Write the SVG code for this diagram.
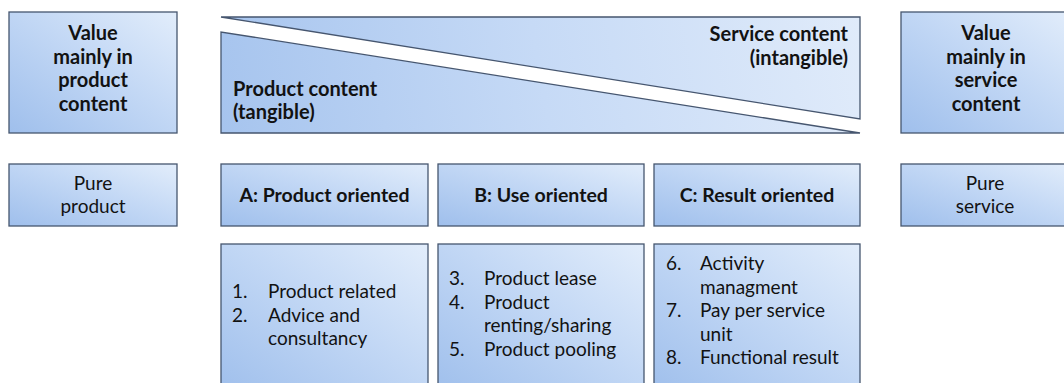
<svg xmlns="http://www.w3.org/2000/svg" width="1064" height="383" viewBox="0 0 1064 383">
<defs>
<linearGradient id="g" x1="0" y1="1" x2="1" y2="0">
<stop offset="0" stop-color="#9fbfec"/>
<stop offset="0.55" stop-color="#c3d8f5"/>
<stop offset="1" stop-color="#e2edfb"/>
</linearGradient>
<linearGradient id="gw" gradientUnits="userSpaceOnUse" x1="221" y1="133" x2="860" y2="17">
<stop offset="0" stop-color="#a6c4ee"/>
<stop offset="0.5" stop-color="#c6daf6"/>
<stop offset="1" stop-color="#e0ebfa"/>
</linearGradient>
<style>
.b{fill:url(#g);stroke:#46566f;stroke-width:1.3}
.t{fill:url(#gw);stroke:#46566f;stroke-width:1.3}
text{font-family:Lato,"Liberation Sans",sans-serif;fill:#121212;font-size:19px}
.h{font-weight:bold;font-size:19.5px}
.big{font-weight:bold;font-size:20px}
.c{text-anchor:middle}
.r{text-anchor:end}
</style>
</defs>
<rect width="1064" height="383" fill="#ffffff"/>
<g id="value-product">
<rect class="b" x="9" y="12" width="168" height="121"/>
<text class="big c"><tspan x="93" y="40">Value</tspan><tspan x="93" y="63.5">mainly in</tspan><tspan x="93" y="87">product</tspan><tspan x="93" y="110.5">content</tspan></text>
</g>
<g id="service-content">
<polygon class="t" points="221,17 860,17 860,119"/>
<text class="big r"><tspan x="848" y="41">Service content</tspan><tspan x="848" y="65">(intangible)</tspan></text>
</g>
<g id="product-content">
<polygon class="t" points="221,32 221,133 860,133"/>
<text class="big"><tspan x="233" y="95.5">Product content</tspan><tspan x="233" y="119">(tangible)</tspan></text>
</g>
<g id="value-service">
<rect class="b" x="901" y="12" width="170" height="121"/>
<text class="big c"><tspan x="986" y="40">Value</tspan><tspan x="986" y="63.5">mainly in</tspan><tspan x="986" y="87">service</tspan><tspan x="986" y="110.5">content</tspan></text>
</g>
<g id="pure-product">
<rect class="b" x="9" y="164" width="168" height="62"/>
<text class="c"><tspan x="93" y="190">Pure</tspan><tspan x="93" y="213">product</tspan></text>
</g>
<g id="a-product-oriented">
<rect class="b" x="221" y="164" width="207" height="62"/>
<text class="h c" x="324.5" y="201.5">A: Product oriented</text>
</g>
<g id="b-use-oriented">
<rect class="b" x="438" y="164" width="206" height="62"/>
<text class="h c" x="541" y="201.5">B: Use oriented</text>
</g>
<g id="c-result-oriented">
<rect class="b" x="654" y="164" width="206" height="62"/>
<text class="h c" x="757" y="201.5">C: Result oriented</text>
</g>
<g id="pure-service">
<rect class="b" x="901" y="164" width="170" height="62"/>
<text class="c"><tspan x="985" y="190">Pure</tspan><tspan x="985" y="213">service</tspan></text>
</g>
<g id="a-list">
<rect class="b" x="221" y="244" width="207" height="150"/>
<text><tspan x="232" y="298">1.</tspan><tspan x="268" y="298">Product related</tspan><tspan x="232" y="321.5">2.</tspan><tspan x="268" y="321.5">Advice and</tspan><tspan x="268" y="345">consultancy</tspan></text>
</g>
<g id="b-list">
<rect class="b" x="438" y="244" width="206" height="150"/>
<text><tspan x="449" y="285">3.</tspan><tspan x="484" y="285">Product lease</tspan><tspan x="449" y="308.5">4.</tspan><tspan x="484" y="308.5">Product</tspan><tspan x="484" y="332">renting/sharing</tspan><tspan x="449" y="355.5">5.</tspan><tspan x="484" y="355.5">Product pooling</tspan></text>
</g>
<g id="c-list">
<rect class="b" x="654" y="244" width="206" height="150"/>
<text><tspan x="666" y="270">6.</tspan><tspan x="700" y="270">Activity</tspan><tspan x="700" y="293.5">managment</tspan><tspan x="666" y="317">7.</tspan><tspan x="700" y="317">Pay per service</tspan><tspan x="700" y="340.5">unit</tspan><tspan x="666" y="364">8.</tspan><tspan x="700" y="364">Functional result</tspan></text>
</g>
<g id="connectors"/>
</svg>
